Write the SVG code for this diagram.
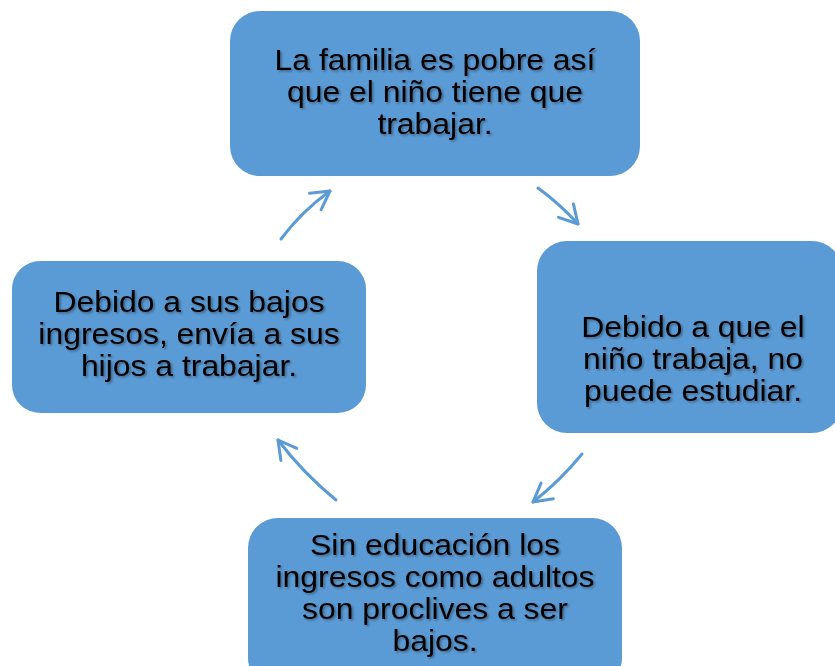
<svg xmlns="http://www.w3.org/2000/svg" width="835" height="666" viewBox="0 0 835 666">
<defs>
<filter id="ts" x="-10%" y="-10%" width="120%" height="130%">
<feDropShadow dx="1.5" dy="1.5" stdDeviation="1" flood-color="#000" flood-opacity="0.35"/>
</filter>
<marker id="ah" markerUnits="userSpaceOnUse" markerWidth="30" markerHeight="30" viewBox="-22 -15 30 30" refX="0" refY="0" orient="auto">
<path d="M-18,-10 L0,0 L-18,10" fill="none" stroke="#5B9BD5" stroke-width="3" stroke-linecap="round" stroke-linejoin="round"/>
</marker>
<style>
.box{fill:#5B9BD5;}
.t{font-family:"Liberation Sans",Arial,sans-serif;font-size:29px;fill:#000;text-anchor:middle;filter:url(#ts);}
.c{fill:none;stroke:#5B9BD5;stroke-width:3;stroke-linecap:round;marker-end:url(#ah);}
</style>
</defs>
<rect width="835" height="666" fill="#fff"/>
<g id="connectors">
<path class="c" d="M538,188 Q560,204 578,224"/>
<path class="c" d="M582,454 Q560,481 533,502"/>
<path class="c" d="M336,500 Q303,473 278,440"/>
<path class="c" d="M281,239 Q302,211 330,191"/>
</g>
<g id="node-top">
<rect class="box" x="230" y="11" width="410" height="165" rx="30"/>
<text class="t" transform="translate(435,0) scale(1.1,1)"><tspan x="0" y="70">La familia es pobre así</tspan><tspan x="0" y="102">que el niño tiene que</tspan><tspan x="0" y="134">trabajar.</tspan></text>
</g>
<g id="node-right">
<rect class="box" x="537" y="241" width="305" height="192" rx="30"/>
<text class="t" transform="translate(693,0) scale(1.1,1)"><tspan x="0" y="337">Debido a que el</tspan><tspan x="0" y="369">niño trabaja, no</tspan><tspan x="0" y="401">puede estudiar.</tspan></text>
</g>
<g id="node-bottom">
<rect class="box" x="248" y="518" width="374" height="170" rx="30"/>
<text class="t" transform="translate(435,0) scale(1.1,1)"><tspan x="0" y="555">Sin educación los</tspan><tspan x="0" y="587">ingresos como adultos</tspan><tspan x="0" y="619">son proclives a ser</tspan><tspan x="0" y="651">bajos.</tspan></text>
</g>
<g id="node-left">
<rect class="box" x="12" y="261" width="354" height="152" rx="28"/>
<text class="t" transform="translate(189,0) scale(1.1,1)"><tspan x="0" y="312">Debido a sus bajos</tspan><tspan x="0" y="344">ingresos, envía a sus</tspan><tspan x="0" y="376">hijos a trabajar.</tspan></text>
</g>
</svg>
